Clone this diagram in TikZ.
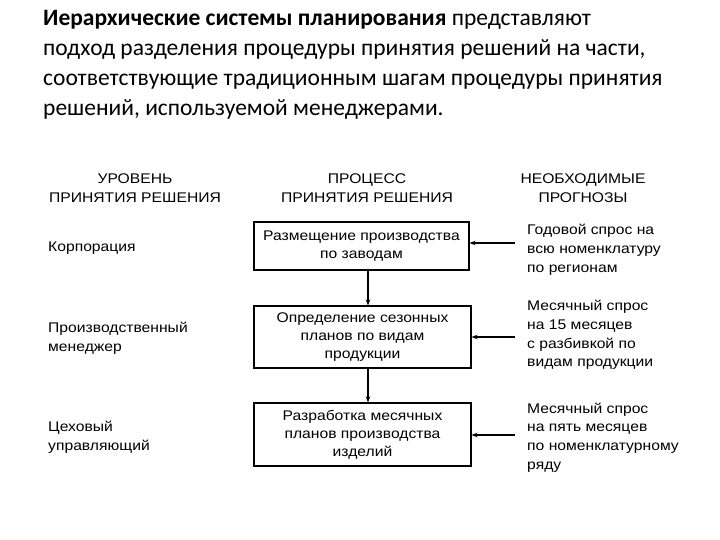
\documentclass[tikz,border=0pt]{standalone}
\usepackage{fontspec}
\setmainfont{Liberation Sans}[FakeStretch=1.12]
\newfontfamily\titlefont{Carlito}
\usetikzlibrary{arrows.meta}
\begin{document}
\begin{tikzpicture}[x=1pt,y=-1pt,
  txt/.style={inner sep=0pt,font=\fontsize{14}{18.8}\selectfont},
  proc/.style={draw,line width=1.1pt,inner sep=2pt,align=center,font=\fontsize{14}{18}\selectfont},
  hdr/.style={inner sep=0pt,align=center,font=\fontsize{14}{19}\selectfont},
  arr/.style={line width=1.1pt,-{Stealth[length=6pt,width=4.5pt]}}]
\useasboundingbox[fill=white] (0,0) rectangle (720,540);
% title
\node[anchor=north west,inner sep=0pt,align=left,font=\titlefont\fontsize{23.5}{30}\selectfont] (title) at (43,10)
 {\textbf{Иерархические системы планирования} представляют\\
 подход разделения процедуры принятия решений на части,\\
 соответствующие традиционным шагам процедуры принятия\\
 решений, используемой менеджерами.};
% headers
\node[hdr] (h1) at (135,188) {УРОВЕНЬ\\ПРИНЯТИЯ РЕШЕНИЯ};
\node[hdr] (h2) at (367,188) {ПРОЦЕСС\\ПРИНЯТИЯ РЕШЕНИЯ};
\node[hdr] (h3) at (583,188) {НЕОБХОДИМЫЕ\\ПРОГНОЗЫ};
% boxes
\node[proc,minimum width=215pt,minimum height=48pt] (b1) at (361.5,246) {Размещение производства\\по заводам};
\node[proc,minimum width=217pt,minimum height=62pt] (b2) at (362.5,337) {Определение сезонных\\планов по видам\\продукции};
\node[proc,minimum width=217pt,minimum height=63pt] (b3) at (362.5,434.5) {Разработка месячных\\планов производства\\изделий};
% left labels
\node[txt,anchor=west] (l1) at (48,248) {Корпорация};
\node[txt,anchor=west,align=left] (l2) at (48,338) {Производственный\\менеджер};
\node[txt,anchor=west,align=left] (l3) at (48,437.5) {Цеховый\\управляющий};
% right labels
\node[txt,anchor=west,align=left] (r1) at (527,249.5) {Годовой спрос на\\всю номенклатуру\\по регионам};
\node[txt,anchor=west,align=left] (r2) at (527,335) {Месячный спрос\\на 15 месяцев\\с разбивкой по\\видам продукции};
\node[txt,anchor=west,align=left] (r3) at (527,437.5) {Месячный спрос\\на пять месяцев\\по номенклатурному\\ряду};
% connectors
\coordinate (c1) at (515,243);
\coordinate (c2) at (515,337);
\coordinate (c3) at (515,435);
\draw[arr] (c1) -- (b1.east |- c1);
\draw[arr] (c2) -- (b2.east |- c2);
\draw[arr] (c3) -- (b3.east |- c3);
\draw[arr] (b1.south -| 368,0) -- (b2.north -| 368,0);
\draw[arr] (b2.south -| 368,0) -- (b3.north -| 368,0);
\end{tikzpicture}
\end{document}
